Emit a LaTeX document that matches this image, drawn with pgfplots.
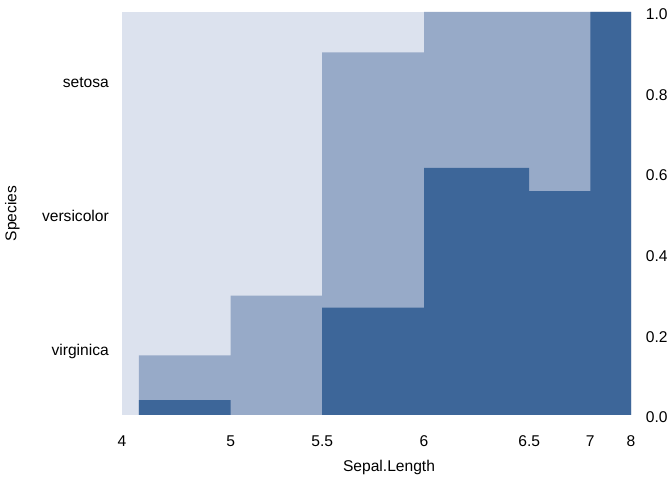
\documentclass[border=0pt]{standalone}
\usepackage{pgfplots}
\pgfplotsset{compat=1.18}
\usepackage{fontspec}
\setmainfont{Liberation Sans}
\definecolor{cdark}{HTML}{3D6699}
\definecolor{cmid}{HTML}{97AAC8}
\definecolor{clight}{HTML}{DCE2EE}
\begin{document}
\fontsize{15.6bp}{18bp}\selectfont
\begin{tikzpicture}
\useasboundingbox (-122bp,-65bp) rectangle (550bp,415bp);
\pgfplotsset{
  common/.style={
    at={(0,0)}, anchor=south west, scale only axis,
    width=509bp, height=403bp,
    xmin=0, xmax=150, ymin=0, ymax=1,
    axis line style={draw=none}, major tick style={draw=none},
    minor tick num=0,
    tick label style={font=\fontsize{15.6bp}{18bp}\selectfont},
    label style={font=\fontsize{15.6bp}{18bp}\selectfont},
  }
}
\begin{axis}[common,
  xtick={0,32,59,89,120,138,150},
  xticklabels={4,5,5.5,6,6.5,7,8},
  xticklabel style={anchor=base, inner sep=0pt, yshift=-31bp},
  ytick={0,0.2,0.4,0.6,0.8,1},
  yticklabels={0.0,0.2,0.4,0.6,0.8,1.0},
  yticklabel pos=right,
  yticklabel style={anchor=base west, inner sep=0pt, xshift=14.7bp, yshift=-7.7bp},
  xlabel={Sepal.Length},
  every axis x label/.style={at={(axis description cs:0.5246,-0.1414)}, anchor=base, inner sep=0pt},
]
\addplot[ybar interval, fill=clight, draw=none] coordinates {(0,1) (150,1)};
\addplot[ybar interval, fill=cmid, draw=none] coordinates {(0,0) (5,0.1481) (32,0.2963) (59,0.9) (89,1) (120,1) (138,1) (144,1) (150,1)};
\addplot[ybar interval, fill=cdark, draw=none] coordinates {(0,0) (5,0.0370) (32,0) (59,0.2667) (89,0.6129) (120,0.5556) (138,1) (144,1) (150,1)};
\end{axis}
\begin{axis}[common,
  xtick=\empty,
  ytick={0.16667,0.5,0.83333},
  yticklabels={virginica,versicolor,setosa},
  yticklabel pos=left,
  yticklabel style={anchor=base east, inner sep=0pt, xshift=-13bp, yshift=-8bp},
  ylabel={Species},
  every axis y label/.style={at={(axis description cs:-0.2073,0.5)}, rotate=90, anchor=base, inner sep=0pt},
]
\end{axis}
\end{tikzpicture}
\end{document}
